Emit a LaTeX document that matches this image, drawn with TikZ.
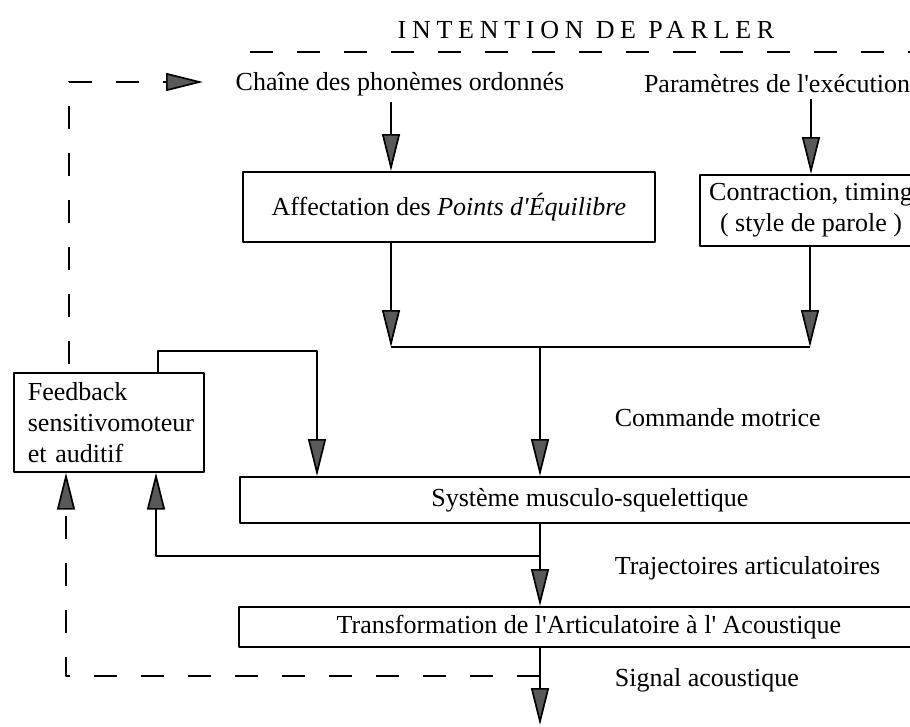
\documentclass[tikz,border=0pt]{standalone}
\usepackage{fontspec}
\setmainfont{Liberation Serif}[Ligatures=TeXOff]
\usetikzlibrary{arrows.meta}

\begin{document}
\begin{tikzpicture}[x=1pt, y=-1pt, font=\fontsize{26}{31}\selectfont, line width=1.7pt, line join=round,
		>={Triangle[length=37pt, width=18pt, fill=black!65]},
		boite/.style={draw, anchor=north west, inner sep=0pt},
		texte/.style={inner sep=0pt},
		tirets/.style={dash pattern=on 23pt off 24pt}]
		\useasboundingbox (0,0) rectangle (910,726);
		\clip (0,0) rectangle (910,726);
		\path
		(250,52) coordinate (il)
		(910,52) coordinate (ir)
		(391,347) coordinate (jl)
		(810,347) coordinate (jr)
		(540,347) coordinate (jm)
		(158,351) coordinate (ra)
		(317,351) coordinate (rb)
		(156,556) coordinate (bl)
		(540,556) coordinate (br)
		(540,725) coordinate (sortie)
		(66,676) coordinate (dl)
		(540,676) coordinate (dr)
		(69,82) coordinate (hl)
		(203,82) coordinate (hr)
		;
		\node[texte] (intention) at (586,30) {\addfontfeature{LetterSpace=22}INTENTION DE PARLER};
		\node[texte] (chaine) at (400,84) {Chaîne des phonèmes ordonnés};
		\node[texte] (param) at (777,84) {Paramètres de l'exécution};
		\node[boite, minimum width=412pt, minimum height=70pt] (affect) at (242,171) {Affectation des \textit{Points d'Équilibre}};
		\node[boite, anchor=north, minimum width=222pt, minimum height=71pt, align=center] (contract) at (811,174) {Contraction, timing\\( style de parole )};
		\node[boite, minimum width=190pt, minimum height=99pt, text width=162pt, inner xsep=14pt, align=left] (feedback) at (13,372) {Feedback\\sensitivomoteur\\et auditif};
		\node[boite, minimum width=700pt, minimum height=46pt] (systeme) at (239,476) {Système musculo-squelettique};
		\node[boite, minimum width=700pt, minimum height=40pt] (transfo) at (238,606) {Transformation de l'Articulatoire à l' Acoustique};
		\node[texte, anchor=west] (commande) at (614,418) {Commande motrice};
		\node[texte, anchor=west] (traj) at (614,568) {Trajectoires articulatoires};
		\node[texte, anchor=west] (signal) at (614,680) {Signal acoustique};
		
		\draw[tirets] (il) -- (ir);
		\draw[->, shorten <=5pt] (chaine.south -| jl) -- (jl |- affect.north);
		\draw[->, shorten <=5pt] (param.south -| contract.north) -- (contract.north);
		\draw[->] (affect.south -| jl) -- (jl);
		\draw[->] (contract.south -| jr) -- (jr);
		\draw (jl) -- (jr);
		\draw[->] (jm) -- (jm |- systeme.north);
		\draw[->] (feedback.north -| ra) -- (ra) -- (rb) -- (rb |- systeme.north);
		\draw[->] (systeme.south -| jm) -- (jm |- transfo.north);
		\draw[->] (br) -- (bl) -- (bl |- feedback.south);
		\draw[->] (transfo.south -| jm) -- (sortie);
		\draw[tirets, ->] (dr) -- (dl) -- (dl |- feedback.south);
		\draw[tirets, dash phase=39pt, ->] (feedback.north -| hl) -- (hl) -- (hr);
		
	\end{tikzpicture}
\end{document}
